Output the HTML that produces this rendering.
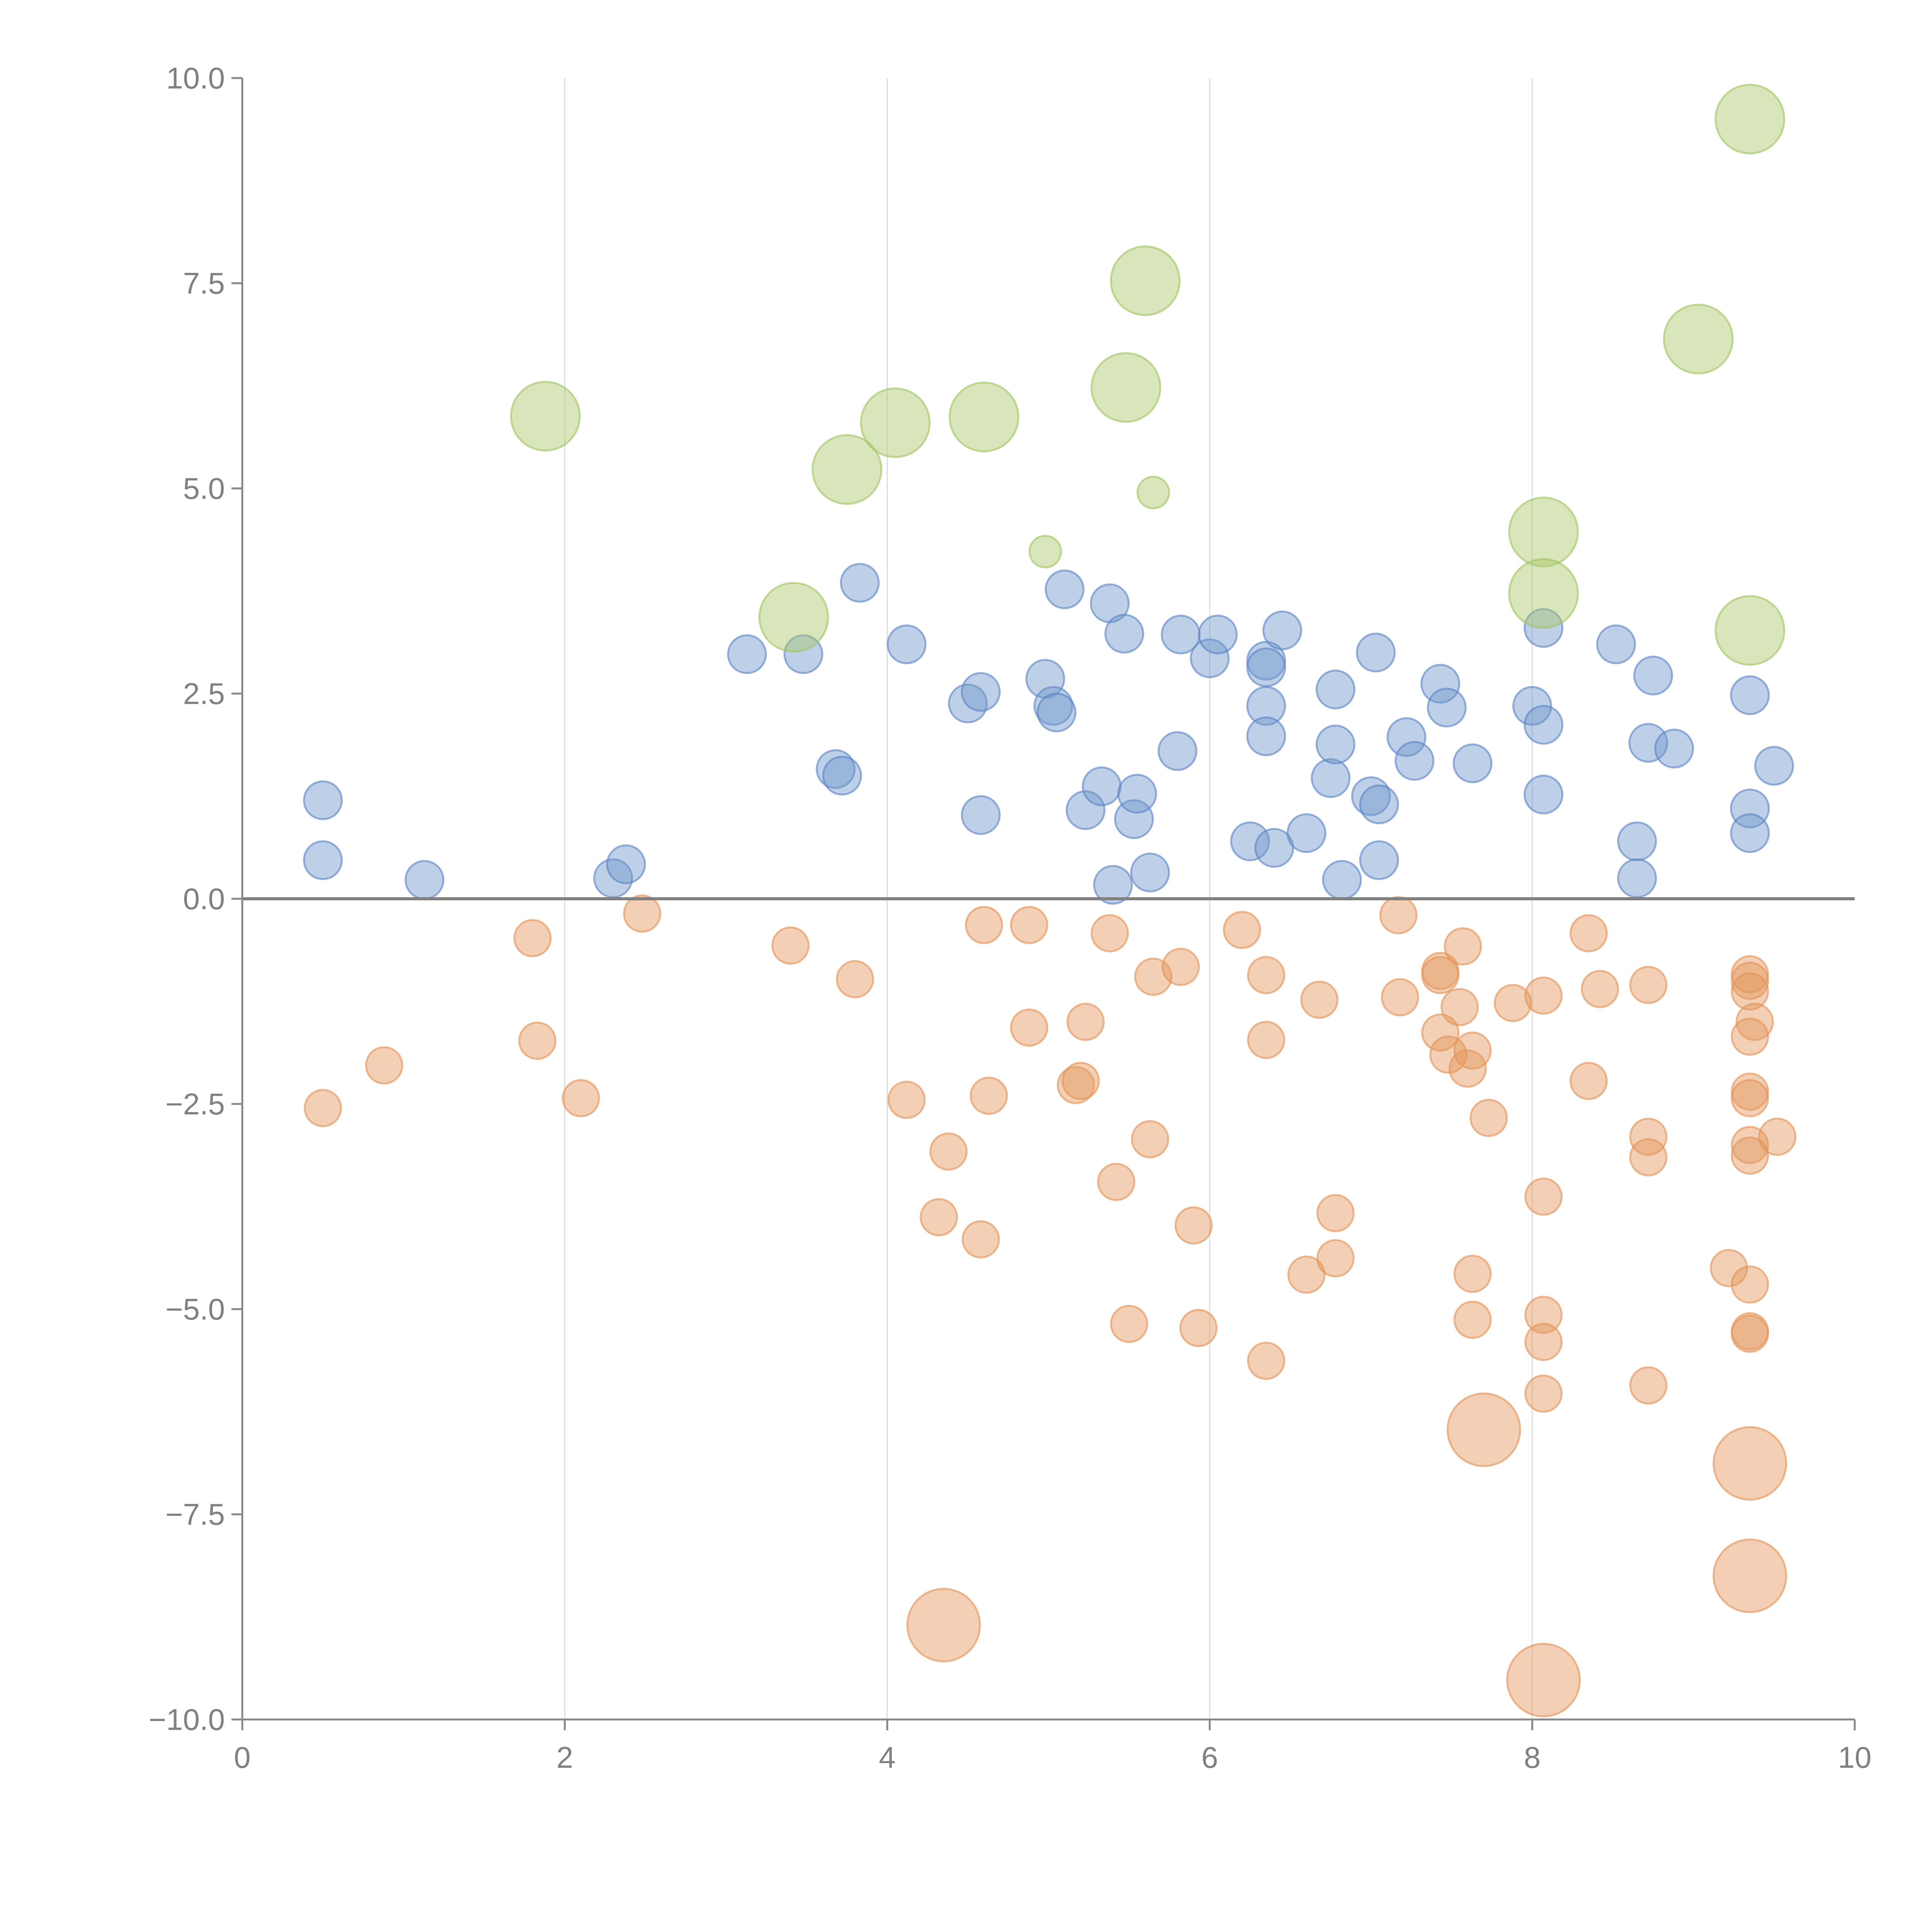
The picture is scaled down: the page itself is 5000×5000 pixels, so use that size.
<!DOCTYPE html>
<html><head><meta charset="utf-8"><style>
html,body{margin:0;padding:0;background:#fff;}
svg{display:block;}
text{font-family:"Liberation Sans",sans-serif;fill:#808080;}
</style></head><body>
<svg id="chart" width="5000" height="5000" viewBox="0 0 5000 5000" xmlns="http://www.w3.org/2000/svg">
<g id="grid"></g>
<g id="marks"></g>
<g id="axes"></g>
</svg>
<script>
const xTicks=[0,2,4,6,8,10];
const yTicks=[-10,-7.5,-5,-2.5,0,2.5,5,7.5,10];
const yTickLabels=["\u221210.0","\u22127.5","\u22125.0","\u22122.5","0.0","2.5","5.0","7.5","10.0"];
const blueX=[0.5,0.5,1.13,2.3,2.38,3.13,3.48,3.83,3.68,3.72,4.12,4.5,4.58,4.58,4.98,5.03,5.05,5.1,5.23,5.33,5.38,5.4,5.47,5.53,5.55,5.63,5.8,5.82,6.0,6.05,6.25,6.35,6.35,6.35,6.35,6.4,6.45,6.6,6.75,6.78,6.78,6.82,7.0,7.03,7.05,7.05,7.22,7.27,7.43,7.47,7.63,8.0,8.07,8.07,8.07,8.52,8.65,8.65,8.72,8.75,8.88,9.35,9.35,9.35,9.5];
const blueY=[1.2,0.47,0.23,0.25,0.42,2.98,2.98,3.85,1.58,1.5,3.1,2.38,2.52,1.02,2.68,2.35,2.27,3.77,1.08,1.37,3.6,0.17,3.23,0.97,1.28,0.32,1.8,3.22,2.93,3.22,0.7,2.9,2.82,2.35,1.98,0.62,3.27,0.8,1.47,2.55,1.88,0.23,1.25,3.0,1.15,0.47,1.97,1.68,2.62,2.33,1.65,2.35,3.3,2.12,1.27,3.1,0.7,0.25,1.9,2.72,1.83,2.48,1.1,0.8,1.62];
const orangeX=[0.5,0.88,1.8,1.83,2.1,2.48,3.4,3.8,4.12,4.32,4.38,4.58,4.6,4.63,4.88,4.88,5.17,5.2,5.23,5.38,5.42,5.5,5.63,5.65,5.82,5.9,5.93,6.2,6.35,6.35,6.35,6.6,6.68,6.78,6.78,7.17,7.18,7.43,7.43,7.43,7.48,7.55,7.57,7.6,7.63,7.63,7.63,7.73,7.88,8.07,8.07,8.07,8.07,8.07,8.35,8.35,8.42,8.72,8.72,8.72,8.72,9.22,9.35,9.35,9.35,9.38,9.35,9.35,9.35,9.35,9.35,9.52,9.35,9.35,9.35];
const orangeY=[-2.55,-2.03,-0.48,-1.73,-2.43,-0.18,-0.57,-0.98,-2.45,-3.88,-3.08,-4.15,-0.32,-2.4,-0.32,-1.57,-2.27,-2.22,-1.5,-0.42,-3.45,-5.18,-2.93,-0.95,-0.83,-3.98,-5.23,-0.38,-0.93,-1.72,-5.63,-4.58,-1.23,-3.83,-4.38,-0.2,-1.2,-0.88,-0.93,-1.63,-1.9,-1.32,-0.58,-2.07,-1.85,-4.57,-5.13,-2.67,-1.27,-1.18,-3.63,-5.07,-5.4,-6.03,-0.42,-2.22,-1.1,-1.05,-2.9,-3.15,-5.93,-4.5,-0.92,-1.0,-1.13,-1.5,-1.68,-2.35,-2.43,-3.0,-3.13,-2.9,-4.7,-5.27,-5.3];
const orangeBigX=[7.7,9.35,9.35,4.35,8.07];
const orangeBigY=[-6.47,-6.88,-8.25,-8.85,-9.52];
const greenX=[1.88,3.42,3.75,4.05,4.6,5.48,5.6,8.07,8.07,9.03,9.35,9.35];
const greenY=[5.88,3.43,5.23,5.8,5.87,6.23,7.53,4.47,3.72,6.82,9.5,3.27];
const greenSmallX=[5.65,4.98];
const greenSmallY=[4.95,4.23];

const X0=627,X1=4800,YT=202,YB=4450;
const sx=v=>X0+(v-0)/(10-0)*(X1-X0);
const sy=v=>YB-(v+10)/20*(YB-YT);
const NS="http://www.w3.org/2000/svg";
function mk(tag,attrs,parent){const e=document.createElementNS(NS,tag);for(const k in attrs)e.setAttribute(k,attrs[k]);parent.appendChild(e);return e;}
const grid=document.getElementById('grid'),marks=document.getElementById('marks'),axes=document.getElementById('axes');

xTicks.forEach(t=>{if(t===0||t===10)return;
 const l=mk('line',{x1:sx(t),x2:sx(t),y1:YT,y2:YB,stroke:'#dddddd','stroke-width':3},grid);
 
 
});

function series(xs,ys,r,fill,stroke,name){
 xs.forEach((x,i)=>{
  const c=mk('circle',{cx:sx(x),cy:sy(ys[i]),r:r,fill:fill,'fill-opacity':0.45,stroke:stroke,'stroke-opacity':0.6,'stroke-width':5},marks);
  
  
 });
}
series(blueX,blueY,49,'rgb(110,150,205)','rgb(90,130,195)','blue-point');
series(orangeX,orangeY,47,'rgb(228,150,90)','rgb(225,145,85)','orange-point');
series(orangeBigX,orangeBigY,94,'rgb(228,150,90)','rgb(225,145,85)','orange-large-point');
series(greenX,greenY,89,'rgb(170,200,105)','rgb(160,195,95)','green-point');
series(greenSmallX,greenSmallY,41,'rgb(170,200,105)','rgb(160,195,95)','green-small-point');

const zl=mk('line',{x1:X0,x2:X1,y1:sy(0),y2:sy(0),stroke:'#808080','stroke-width':8},axes);


const ya=mk('line',{x1:X0,x2:X0,y1:YT,y2:YB,stroke:'#888','stroke-width':5},axes);


const xa=mk('line',{x1:X0,x2:X1,y1:YB,y2:YB,stroke:'#888','stroke-width':5},axes);



xTicks.forEach(t=>{
 const l=mk('line',{x1:sx(t),x2:sx(t),y1:YB,y2:YB+28,stroke:'#888','stroke-width':5},axes);
 
 
 const tx=mk('text',{x:sx(t),y:YB+125,'text-anchor':'middle','font-size':78},axes);
 tx.textContent=String(t);
 
 
});
yTicks.forEach((t,i)=>{
 const l=mk('line',{x1:X0-28,x2:X0,y1:sy(t),y2:sy(t),stroke:'#888','stroke-width':5},axes);
 
 
 const tx=mk('text',{x:X0-45,y:sy(t)+27,'text-anchor':'end','font-size':78},axes);
 tx.textContent=yTickLabels[i];
 
 
});
</script>
</body></html>
